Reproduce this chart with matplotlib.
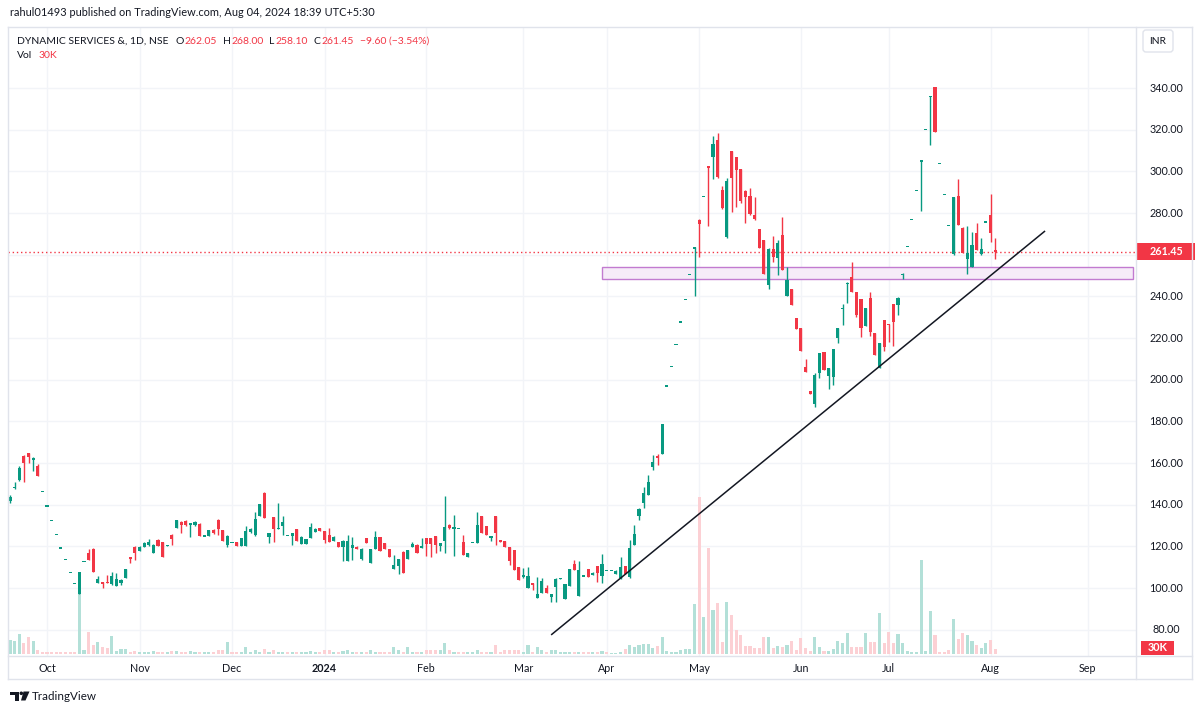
import matplotlib
matplotlib.use("Agg")
import matplotlib.pyplot as plt
import numpy as np
from matplotlib.patches import Rectangle, FancyBboxPatch, Polygon, Circle
from matplotlib.lines import Line2D
from matplotlib.transforms import Affine2D

plt.rcParams['font.family'] = ['Lato', 'DejaVu Sans']

# ---------------- data (daily bars, Sep 2023 - 2 Aug 2024) ----------------
opens = [142, 148, 152, 163.4, 164.7, 161.5, 158.5, 146.4, 139.4, 132.5,
         125.6, 119.2, 113.9, 107.5, 102.3, 97, 112.8, 116.7, 118.7, 102.3,
         102.7, 103, 102, 101.1, 102.3, 104.7, 114.7, 119.8, 117.9, 119.8,
         120.5, 116.7, 123, 121.9, 120, 125.4, 128.6, 131.8, 132.3, 130.5,
         130.1, 130.6, 125, 125, 127.9, 132.6, 127.9, 120.5, 122, 122,
         120.2, 120.2, 126.9, 125.3, 134.6, 145.4, 124.6, 134, 128.5, 129.8,
         125.3, 125, 128.3, 121.1, 121.1, 123.9, 127, 128.7, 127.5, 125.4,
         122.7, 121.9, 119.5, 113.1, 119.1, 119.8, 113.8, 123.9, 111.9, 118.7,
         124.4, 121.5, 118.6, 109.1, 110.7, 117.4, 113.8, 119.8, 120.8, 119.1,
         123.9, 123.9, 125, 120.2, 122.7, 130.3, 128.2, 128.6, 122.2, 114.8,
         122, 121.8, 134.7, 129.6, 123.9, 134.7, 123, 122.7, 119.8, 118.2,
         110.2, 105.1, 99.9, 102.3, 95.1, 97.8, 99.9, 95.5, 100.6, 104.3,
         94.7, 101, 111.5, 96.2, 105.8, 109, 106.5, 110.7, 105.9, 108.3,
         108.3, 106.6, 104.7, 110.5, 105.1, 120.7, 134.6, 140.7, 144.7, 158.2,
         163.2, 164.2, 197, 206.2, 217, 227.7, 238.7, 250.7, 262.5, 276.7,
         288.1, 302.6, 306.7, 315, 291, 268.4, 309.9, 306.7, 301, 290.6,
         288.2, 279, 272.2, 267, 245.5, 262.7, 258.3, 269.5, 240.2, 243.4,
         229.5, 224.7, 206.2, 194.7, 188.2, 203.1, 213.4, 201.8, 201.2, 219.9,
         233.8, 246, 249.2, 242.2, 238.6, 225.8, 239.1, 222.3, 205.5, 228.7,
         226.6, 236.3, 235.9, 250.5, 263.9, 277, 290.7, 304.5, 320.2, 335.5,
         340.4, 303.8, 288.7, 274.1, 260.3, 288.2, 273, 257.8, 254.2, 270.2,
         260.2, 275.7, 279, 262.05]
highs = [144.5, 151, 158.5, 164, 165, 163, 159.5, 146.4, 139.4, 132.5,
         125.6, 119.2, 113.9, 107.5, 102.3, 107.5, 112.8, 118.6, 119, 106,
         103, 106.2, 107.8, 107, 104.5, 109.1, 115, 120, 120, 122,
         123.5, 121, 123.5, 122, 120.5, 125.8, 132.6, 132, 132.5, 131.3,
         132, 131, 125, 128, 128.2, 133, 128, 125.5, 122, 122.3,
         124, 130, 128.7, 136.7, 140.5, 146.3, 126.5, 134.3, 141, 134.5,
         125.3, 126.5, 128.5, 124.8, 123.7, 131, 128.7, 128.8, 127.6, 128.6,
         124.8, 122, 122.9, 125.4, 124.6, 120, 119, 124, 118.8, 127.4,
         124.6, 121.7, 118.8, 116, 113.9, 117.6, 118.4, 122.3, 121, 124,
         124, 124, 125.2, 121.5, 144.2, 130.5, 135, 128.6, 125.3, 116.8,
         122, 136.6, 134.8, 129.7, 125.1, 134.8, 123.1, 122.8, 119.9, 118.3,
         110.3, 109.5, 110.2, 102.4, 105.4, 104.9, 101.6, 97.2, 104.6, 104.6,
         102, 109.1, 113.5, 113.1, 105.8, 109.1, 107.5, 110.8, 116.2, 108.3,
         108.3, 108.5, 115, 110.6, 123, 130.3, 138.5, 148.3, 154.3, 163.8,
         164.5, 178.7, 197, 206.2, 217, 227.7, 238.7, 250.7, 263.9, 277,
         288.1, 302.6, 317.1, 318.3, 293.1, 296.6, 310, 307, 301.2, 291,
         291.8, 287.6, 272.5, 267.2, 263, 269, 267, 278, 254.2, 243.5,
         229.6, 224.8, 209.8, 194.8, 203, 212.8, 213.5, 205.6, 214.7, 224.8,
         236.5, 246.7, 256.6, 242.3, 238.7, 234.4, 242.2, 222.4, 217.6, 228.8,
         226.7, 236.4, 239.5, 251, 263.9, 277, 290.7, 305.3, 320.2, 336.2,
         340.4, 303.8, 288.7, 274.1, 287.7, 296.3, 273.1, 273.8, 271, 275,
         267.9, 275.7, 289.1, 268]
lows = [141, 147.5, 151.5, 151, 160, 156, 153.8, 146.4, 139.4, 132.5,
        125.6, 119.2, 113.9, 107.5, 102.3, 97, 112.8, 113.5, 107.8, 102.3,
        99.9, 102.3, 101.5, 101, 101.5, 104.7, 111.9, 113.5, 117.9, 119.5,
        120, 116.7, 120, 114.7, 120, 120.7, 128.6, 126.6, 130, 124.5,
        130, 125, 125, 125, 126, 125.3, 122.6, 119.5, 122, 120,
        120, 120, 126.5, 125, 134.5, 133.5, 121.5, 121.9, 128.5, 125.3,
        125.3, 120.7, 122.5, 121, 121, 123.9, 127, 127.4, 121.5, 122.2,
        122.5, 119.7, 113, 113, 113.5, 118.6, 113.5, 121.7, 111.8, 118.5,
        117.8, 118.5, 114.7, 109, 106.5, 107.4, 113.7, 119.7, 116.7, 119,
        115.4, 115, 117, 118, 117, 128.5, 115.4, 128.6, 115.9, 114.7,
        122, 121.7, 126.5, 125.3, 122.5, 120.7, 122.2, 119.8, 111, 108.7,
        103.9, 105, 99.8, 99, 95, 97.7, 97.8, 93.4, 93.4, 104.2,
        94.6, 100.9, 108.6, 96.1, 105.8, 105.3, 106.4, 103, 102.5, 108.3,
        108.3, 106.5, 104.5, 106.6, 105, 120.6, 132.5, 138.5, 144.5, 156.5,
        159, 164.1, 197, 206.2, 217, 227.7, 238.7, 250.7, 240.2, 259,
        288.1, 273.7, 296.2, 297, 282, 268, 280.6, 282.8, 285, 275,
        279, 276.5, 263.4, 250.6, 243.4, 256.6, 250.3, 252.7, 240, 235.9,
        224.2, 213.9, 203.5, 193.1, 187, 201, 204.7, 195.4, 197.5, 217.5,
        226.3, 237, 242.2, 230, 220.6, 225.7, 221, 211.9, 205.4, 214,
        218, 216.2, 231, 248.2, 263.9, 277, 290.7, 281, 320.2, 312.7,
        319, 303.8, 288.7, 274.1, 260, 274.2, 260.6, 250.6, 254, 262.2,
        260, 275.7, 266.2, 258.1]
closes = [143.5, 148.5, 157.5, 160, 162.8, 162.5, 154, 146.4, 139.4, 132.5,
          125.6, 119.2, 113.9, 107.5, 102.3, 107.5, 112.8, 113.5, 107.8, 104.2,
          101.9, 102.5, 105.8, 104.2, 104, 109.1, 114.1, 117, 119.8, 121.8,
          122, 120.5, 120.2, 114.7, 120.5, 123.4, 132.6, 130.1, 130.1, 131,
          131.8, 125, 125, 127.9, 126.3, 128.2, 122.6, 125, 122, 120.2,
          123.9, 127.4, 128.5, 133, 140.2, 133.5, 126.3, 128.5, 129, 131.7,
          125.3, 126.2, 122.7, 124.6, 123.5, 129.1, 128.5, 127.5, 123, 122.2,
          124.6, 119.8, 122.7, 122.7, 120.7, 118.7, 118.8, 121.8, 118.6, 124.4,
          117.9, 118.6, 114.8, 111.1, 113.8, 107.4, 118.2, 121.1, 116.7, 120.2,
          121.1, 121.1, 120.7, 121.4, 129.1, 128.6, 129.5, 128.6, 115.9, 116.7,
          122, 130.3, 126.6, 125.4, 125, 126.2, 122.2, 119.8, 113.1, 108.7,
          103.9, 106.4, 105.8, 101.3, 97.1, 103.5, 97.8, 97.1, 104.5, 104.5,
          101.9, 109, 108.7, 108.7, 105.8, 105.4, 107, 107.1, 111.4, 108.3,
          108.3, 108.3, 110.2, 106.7, 119.1, 125.7, 137.7, 145.7, 151, 160.6,
          162.3, 178.7, 197, 206.2, 217, 227.7, 238.7, 250.7, 263.5, 274.6,
          288.1, 301.5, 313.3, 297.2, 282.3, 295.5, 297, 300.7, 286, 287.6,
          279.5, 277, 263.4, 250.6, 262.7, 259, 265.5, 252.7, 247.9, 235.9,
          224.2, 213.9, 203.5, 193.1, 202.3, 212.7, 204.7, 205.5, 214.6, 224.7,
          234.6, 246.6, 242.2, 231, 224.7, 234.3, 223, 211.9, 217.5, 215.8,
          226.2, 227.8, 239.4, 250.8, 263.9, 277, 290.7, 305.3, 320.2, 336.2,
          319, 303.8, 288.7, 274.1, 287.6, 274.3, 260.7, 261, 264.7, 262.3,
          262.6, 275.7, 270.6, 261.45]
volumes_k = [89, 83, 126, 72, 106, 83, 26, 13, 13, 13,
             13, 13, 13, 13, 13, 381, 26, 141, 58, 77,
             43, 36, 115, 21, 30, 30, 15, 20, 15, 13,
             13, 20, 15, 13, 15, 20, 18, 13, 15, 20,
             15, 15, 10, 13, 15, 26, 26, 79, 10, 10,
             15, 43, 15, 26, 15, 30, 15, 26, 15, 13,
             10, 10, 13, 15, 13, 20, 13, 10, 26, 26,
             13, 10, 20, 26, 13, 10, 13, 10, 26, 15,
             15, 10, 13, 43, 26, 15, 43, 15, 15, 10,
             26, 26, 26, 26, 68, 26, 15, 10, 15, 13,
             10, 26, 15, 13, 10, 58, 15, 26, 26, 26,
             26, 15, 58, 15, 47, 26, 15, 26, 26, 10,
             15, 15, 13, 15, 10, 13, 10, 15, 21, 11,
             4, 4, 15, 32, 58, 43, 60, 62, 62, 40,
             51, 111, 21, 15, 15, 26, 30, 30, 317, 1005,
             239, 680, 281, 324, 79, 330, 251, 153, 121, 53,
             53, 36, 36, 107, 111, 36, 53, 47, 58, 85,
             26, 100, 36, 19, 111, 43, 19, 19, 32, 85,
             72, 132, 43, 43, 47, 132, 79, 79, 264, 68,
             143, 68, 128, 68, 21, 15, 15, 601, 21, 277,
             121, 11, 11, 26, 222, 94, 136, 121, 85, 58,
             36, 68, 89, 30]

month_labels = ['Oct', 'Nov', 'Dec', '2024', 'Feb', 'Mar', 'Apr', 'May', 'Jun', 'Jul', 'Aug', 'Sep']
month_bar_index = [8, 28, 48, 68, 90, 111, 129, 149, 171, 190, 212, 233]
price_ticks = list(range(80, 341, 20))

last_open, last_high, last_low, last_close = 262.05, 268.00, 258.10, 261.45
change, change_pct = -9.60, -3.54
last_vol_label = '30K'
zone_low, zone_high = 248.2, 254.0
zone_start, zone_end = 128, 242.8
trend_x = [117.0, 223.8]
trend_y = [77.5, 271.4]

# ---------------- styling ----------------
W, H = 1200, 713
GREEN = '#089981'
RED = '#f23645'
TXT = '#131722'
GRID = '#f2f4f8'
BORDER = '#e0e3eb'
VGREEN = '#b3e0d8'
VRED = '#fcd0d4'

fig = plt.figure(figsize=(W / 100, H / 100), dpi=100)
fig.patch.set_facecolor('white')
PX = Affine2D().scale(1 / 100, -1 / 100).translate(0, H / 100) + fig.dpi_scale_trans

LEFT, RIGHT, TOP, BOT = 8, 1136, 28, 656
rect = [LEFT / W, 1 - BOT / H, (RIGHT - LEFT) / W, (BOT - TOP) / H]
X0, DX = 10.0, 4.625
xlim = ((LEFT - X0) / DX, (RIGHT - X0) / DX)
PPU, Y80 = 2.0833, 629.7
ylim = (80 + (Y80 - BOT) / PPU, 80 + (Y80 - TOP) / PPU)
VK_PER_PX = 6.4
VBASE = 654
vlim = (-(BOT - VBASE) * VK_PER_PX, (VBASE - TOP) * VK_PER_PX)

ax_grid = fig.add_axes(rect)
ax_vol = fig.add_axes(rect)
ax = fig.add_axes(rect)
for a in (ax_grid, ax_vol, ax):
    a.set_xlim(*xlim)
    a.axis('off')
    a.patch.set_visible(False)
ax_grid.set_ylim(*ylim)
ax.set_ylim(*ylim)
ax_vol.set_ylim(*vlim)

# grid
for p in price_ticks:
    ax_grid.axhline(p, color=GRID, lw=1.0, zorder=0)
for m in month_bar_index:
    ax_grid.axvline(m, color=GRID, lw=1.0, zorder=0)

O = np.array(opens); Hh = np.array(highs); Lo = np.array(lows); C = np.array(closes)
V = np.array(volumes_k, dtype=float)
n = len(O)
x = np.arange(n)

# volume
prev = np.concatenate([[C[0]], C[:-1]])
vup = np.where(C > O, True, np.where(C < O, False, C >= prev))
ax_vol.bar(x, V, width=0.66, color=np.where(vup, VGREEN, VRED), linewidth=0, zorder=1)

# zone
ax.add_patch(Rectangle((zone_start, zone_low), zone_end - zone_start, zone_high - zone_low,
                       facecolor='#f6ebf8', edgecolor='#c27bd0', lw=1.0, zorder=1))

# candles
cols = np.where(C >= O, GREEN, RED)
ax.vlines(x, Lo, Hh, colors=cols, linewidth=1.0, zorder=3)
mid = (O + C) / 2
minh = 0.55
body_h = np.maximum(np.abs(C - O), minh)
body_b = np.where(np.abs(C - O) < minh, mid - minh / 2, np.minimum(O, C))
ax.bar(x, body_h, bottom=body_b, width=0.66, color=cols, linewidth=0, zorder=4)

# last price dotted line
ax.axhline(last_close, color=RED, lw=1.0, ls=(0, (1, 2)), zorder=2)

# trend line
ax.plot(trend_x, trend_y, color=TXT, lw=1.1, zorder=5, solid_capstyle='butt')

# ---------------- frame lines ----------------
def hline(y, x1, x2, c=BORDER, lw=1.0):
    fig.add_artist(Line2D([x1, x2], [y, y], transform=PX, color=c, lw=lw))

def vline(xp, y1, y2, c=BORDER, lw=1.0):
    fig.add_artist(Line2D([xp, xp], [y1, y2], transform=PX, color=c, lw=lw))

hline(27, 8, 1192)
hline(656, 8, 1192)
hline(679, 8, 1192)
vline(8, 27, 679)
vline(1192, 27, 679)
vline(1136, 27, 679)

renderer = fig.canvas.get_renderer()

def text_width(t):
    return t.get_window_extent(renderer=renderer).width

def fit_size(s, width_px, weight='normal', size0=9.0):
    t = fig.text(0, 0, s, fontsize=size0, fontweight=weight)
    w = text_width(t)
    t.remove()
    return size0 * width_px / w

# header
header = 'rahul01493 published on TradingView.com, Aug 04, 2024 18:39 UTC+5:30'
hs = fit_size(header, 366)
fig.text(10, 13, header, transform=PX, fontsize=hs, color=TXT, ha='left', va='center')

# legend line (laid out sequentially with measured widths)
ls_ = fit_size('DYNAMIC SERVICES &, 1D, NSE', 151)
legend_parts = [('DYNAMIC SERVICES &, 1D, NSE', TXT, 7),
                ('O', TXT, 0.5), (f'{last_open:.2f}', RED, 6),
                ('H', TXT, 0.5), (f'{last_high:.2f}', RED, 6),
                ('L', TXT, 0.5), (f'{last_low:.2f}', RED, 6),
                ('C', TXT, 0.5), (f'{last_close:.2f}', RED, 6),
                (f'−{abs(change):.2f} (−{abs(change_pct):.2f}%)', RED, 0)]
xp = 17
for s, c, gap in legend_parts:
    t = fig.text(xp, 41, s, transform=PX, fontsize=ls_, color=c, ha='left', va='center')
    xp += text_width(t) + gap
t = fig.text(17, 56, 'Vol', transform=PX, fontsize=ls_, color=TXT, ha='left', va='center')
fig.text(17 + text_width(t) + 6, 56, last_vol_label, transform=PX, fontsize=ls_, color=RED,
         ha='left', va='center')

# price axis labels (hidden where the last-price tag sits)
ps = fit_size('340.00', 34)
xa = (1166 - LEFT) / (RIGHT - LEFT)
for p in price_ticks:
    if abs(p - last_close) * PPU < 12:
        continue
    ax.text(xa, p, f'{p:.2f}', transform=ax.get_yaxis_transform(), ha='center', va='center',
            fontsize=ps, color=TXT, clip_on=False)

# last price tag
bx0 = (1137 - LEFT) / (RIGHT - LEFT)
bw = 58 / (RIGHT - LEFT)
hh = 8.5 / PPU
ax.add_patch(Rectangle((bx0, last_close - hh), bw, 2 * hh, transform=ax.get_yaxis_transform(),
                       facecolor=RED, edgecolor='none', clip_on=False, zorder=6))
ax.text(bx0 + bw / 2, last_close, f'{last_close:.2f}', transform=ax.get_yaxis_transform(),
        ha='center', va='center', fontsize=ps, color='white', fontweight='bold', clip_on=False, zorder=7)

# volume tag
vb0 = (1141 - LEFT) / (RIGHT - LEFT)
vbw = 33 / (RIGHT - LEFT)
vh = 7 * VK_PER_PX
last_vol = V[-1]
ax_vol.add_patch(Rectangle((vb0, last_vol + 10 - vh), vbw, 2 * vh, transform=ax_vol.get_yaxis_transform(),
                           facecolor=RED, edgecolor='none', clip_on=False, zorder=6))
ax_vol.text(vb0 + vbw / 2, last_vol + 10, last_vol_label, transform=ax_vol.get_yaxis_transform(),
            ha='center', va='center', fontsize=ps, color='white', fontweight='bold', clip_on=False, zorder=7)

# INR box
fig.add_artist(FancyBboxPatch((1143, 30), 30, 22, boxstyle='round,pad=0,rounding_size=3',
                              transform=PX, facecolor='white', edgecolor=BORDER, lw=1.0))
fig.text(1158, 41, 'INR', transform=PX, fontsize=ps * 0.95, color=TXT, ha='center', va='center')

# time axis labels
ya = (BOT - 668) / (BOT - TOP)
for lab, m in zip(month_labels, month_bar_index):
    ax.text(m, ya, lab, transform=ax.get_xaxis_transform(), ha='center', va='center',
            fontsize=ps, color=TXT, fontweight='bold' if lab == '2024' else 'normal', clip_on=False)

# TradingView logo
fig.add_artist(Polygon([(9.5, 691.5), (19, 691.5), (19, 700.5), (15, 700.5), (15, 695), (9.5, 695)],
                       closed=True, transform=PX, facecolor=TXT, edgecolor='none'))
fig.add_artist(Circle((21.3, 693.3), 1.8, transform=PX, facecolor=TXT, edgecolor='none'))
fig.add_artist(Polygon([(23.5, 691.5), (29.5, 691.5), (25.5, 700.5), (21.0, 700.5)],
                       closed=True, transform=PX, facecolor=TXT, edgecolor='none'))
tvs = fit_size('TradingView', 65)
fig.text(32, 696, 'TradingView', transform=PX, fontsize=tvs, color=TXT, ha='left', va='center')

fig.savefig('out.png', dpi=100, facecolor='white')
